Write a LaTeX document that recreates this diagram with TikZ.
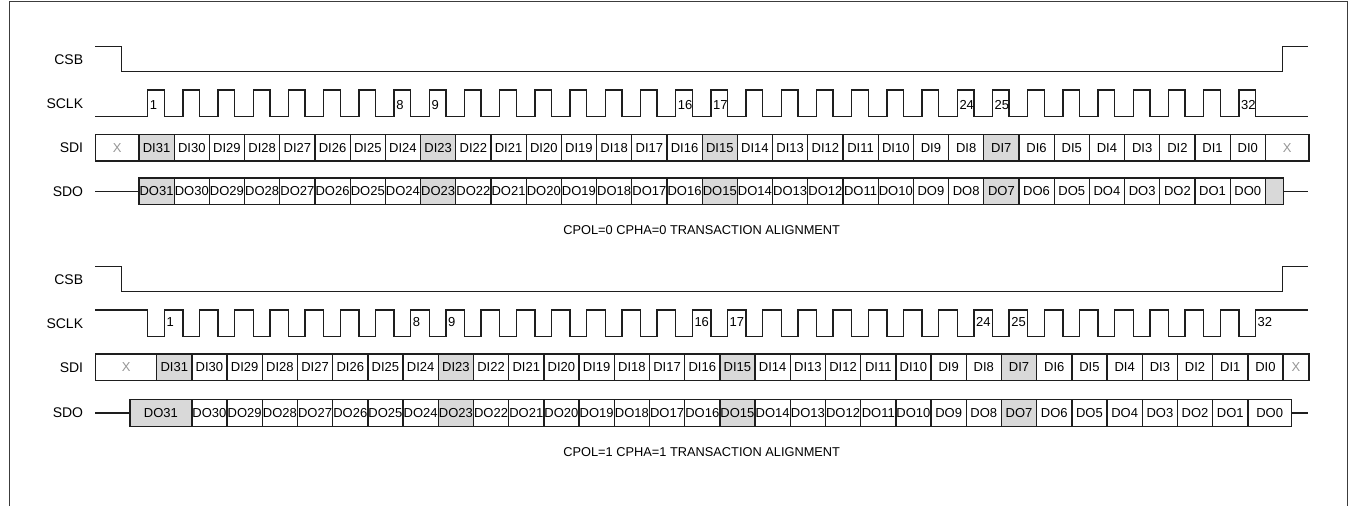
\documentclass[tikz,border=0pt]{standalone}
\usepackage{fontspec}
\setsansfont{Liberation Sans}
\usepackage{tikz}

\begin{document}
\begin{tikzpicture}[x=1pt, y=-1pt]
  % Colors
  \definecolor{cellcol}{RGB}{217,217,217}
  \definecolor{xcol}{RGB}{150,150,150}
  \definecolor{linecol}{RGB}{30,30,30}
  \definecolor{framecol}{RGB}{60,60,60}
  %
  \def\cw{35.2}   % bit cell pitch
  \def\ch{26.7}   % cell height
  \def\pw{16.6}   % clock pulse width
  %
  \tikzset{
    cell/.style={draw=linecol, line width=1.3pt, minimum width=\cw pt, minimum height=\ch pt,
                 inner sep=0pt, anchor=west, font=\sffamily\fontsize{13}{13}\selectfont},
    xcell/.style={cell, text=xcol},
    sig/.style={draw=linecol, line width=1.3pt},
    siglabel/.style={font=\sffamily\fontsize{14}{14}\selectfont, anchor=east, inner sep=0pt},
    clknum/.style={font=\sffamily\fontsize{13}{13}\selectfont, anchor=west, inner sep=1pt},
    caption/.style={font=\sffamily\fontsize{12.8}{13}\selectfont},
  }
  %
  \useasboundingbox (0,0) rectangle (1351,506);
  \draw[framecol, line width=1pt] (9,506) -- (9,1.5) -- (1347.7,1.5) -- (1347.7,506);
  %
  %%% CPOL=0 CPHA=0 %%%
  \node[siglabel] (csbt) at (83.3, 59.2) {CSB};
  \node[siglabel] (sclkt) at (83.3, 103.3) {SCLK};
  \node[siglabel] (sdit) at (83.3, 147.7) {SDI};
  \node[siglabel] (sdot) at (83.3, 191.3) {SDO};
  %
  % CSB and SCLK
  \draw[sig] (95,46.7) -- (121.7,46.7) -- (121.7,71.7) -- (1282.7,71.7) -- (1282.7,46.7) -- (1308.3,46.7);
  \draw[sig] (95,116.7) \foreach \k in {0,...,31} {
      -- ({147.7+\k*\cw},116.7) -- ++(0,-26.7) -- ++(\pw,0) -- ++(0,26.7) } -- (1308.3,116.7);
  \foreach \k in {1,8,9,16,17,24,25,32}
    \node[clknum] (ckt\k) at ({148.7+(\k-1)*\cw}, 105) {\k};
  %
  % SDI
  \node[xcell, minimum width=43.3pt] (dixt) at (95,147.7) {X};
  \foreach \n in {0,...,31} {
    \pgfmathtruncatemacro{\bit}{31-\n}
    \pgfmathtruncatemacro{\hl}{mod(\n,8)==0}
    \ifnum\hl=1 \def\col{cellcol}\else\def\col{white}\fi
    \node[cell, fill=\col] (dit\bit) at ({138.3+\n*\cw},147.7) {DI\bit};
  }
  \node[xcell, minimum width=43.6pt] (dizt) at (1264.7,147.7) {X};
  %
  % SDO
  \coordinate (sdoint) at (95,191.3);
  \foreach \n in {0,...,31} {
    \pgfmathtruncatemacro{\bit}{31-\n}
    \pgfmathtruncatemacro{\hl}{mod(\n,8)==0}
    \ifnum\hl=1 \def\col{cellcol}\else\def\col{white}\fi
    \node[cell, fill=\col] (dot\bit) at ({138.3+\n*\cw},191.3) {DO\bit};
  }
  \node[cell, fill=cellcol, minimum width=18pt] (dolt) at (1264.7,191.3) {};
  \coordinate (sdooutt) at (1308.3,191.3);
  \draw[sig] (sdoint) -- (dot31.west);
  \draw[sig] (dolt.east) -- (sdooutt);
  %
  \node[caption] (capt) at (701.7,230.5) {CPOL=0 CPHA=0 TRANSACTION ALIGNMENT};
  %
  %%% CPOL=1 CPHA=1 %%%
  \node[siglabel] (csbb) at (83.3, 279.2) {CSB};
  \node[siglabel] (sclkb) at (83.3, 323.3) {SCLK};
  \node[siglabel] (sdib) at (83.3, 367.2) {SDI};
  \node[siglabel] (sdob) at (83.3, 413) {SDO};
  %
  % CSB and SCLK
  \draw[sig] (95,266.7) -- (121.7,266.7) -- (121.7,291.7) -- (1282.7,291.7) -- (1282.7,266.7) -- (1308.3,266.7);
  \draw[sig] (95,310) \foreach \k in {0,...,31} {
      -- ({147.7+\k*\cw},310) -- ++(0,26.7) -- ++(\pw,0) -- ++(0,-26.7) } -- (1308.3,310);
  \foreach \k in {1,8,9,16,17,24,25,32}
    \node[clknum] (ckb\k) at ({165.3+(\k-1)*\cw}, 322) {\k};
  %
  % SDI
  \node[xcell, minimum width=61pt] (dixb) at (95,367.2) {X};
  \foreach \n in {0,...,31} {
    \pgfmathtruncatemacro{\bit}{31-\n}
    \pgfmathtruncatemacro{\hl}{mod(\n,8)==0}
    \ifnum\hl=1 \def\col{cellcol}\else\def\col{white}\fi
    \node[cell, fill=\col] (dib\bit) at ({156+\n*\cw},367.2) {DI\bit};
  }
  \node[xcell, minimum width=25.9pt] (dizb) at (1282.4,367.2) {X};
  %
  % SDO
  \coordinate (sdoinb) at (95,413);
  \node[cell, fill=cellcol, minimum width=61.9pt] (dob31) at (129.3,413) {DO31};
  \foreach \n in {1,...,30} {
    \pgfmathtruncatemacro{\bit}{31-\n}
    \pgfmathtruncatemacro{\hl}{mod(\n,8)==0}
    \ifnum\hl=1 \def\col{cellcol}\else\def\col{white}\fi
    \node[cell, fill=\col] (dob\bit) at ({156+\n*\cw},413) {DO\bit};
  }
  \node[cell, minimum width=43.7pt] (dob0) at (1247.2,413) {DO0};
  \coordinate (sdooutb) at (1308.3,413);
  \draw[sig] (sdoinb) -- (dob31.west);
  \draw[sig] (dob0.east) -- (sdooutb);
  %
  \node[caption] (capb) at (701.7,452) {CPOL=1 CPHA=1 TRANSACTION ALIGNMENT};
\end{tikzpicture}
\end{document}
